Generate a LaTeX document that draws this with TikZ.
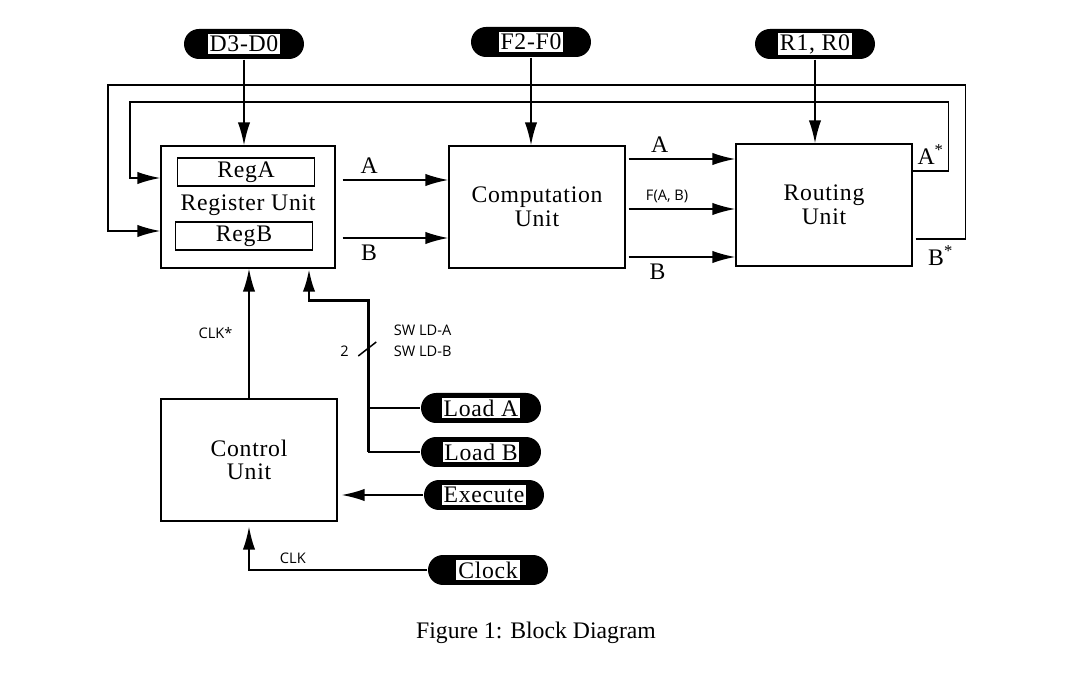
\documentclass[tikz,border=0pt]{standalone}
\usepackage{fontspec}
\setmainfont{Liberation Serif}
\newfontfamily\boxfont[LetterSpace=3]{Liberation Serif}
\newfontfamily\smallsans{Open Sans}
\usetikzlibrary{arrows.meta,calc}
\setlength{\fboxsep}{1pt}

\begin{document}
\begin{tikzpicture}[x=0.02cm, y=-0.02cm, line width=0.85pt,
    unit/.style={draw, minimum width=3.52cm, minimum height=2.44cm, align=center, font=\boxfont\fontsize{13.5}{13.5}\selectfont},
    regbox/.style={draw, minimum width=2.74cm, minimum height=0.56cm, inner sep=0pt, font=\boxfont\fontsize{13.5}{14}\selectfont},
    pill/.style={fill=black, rounded corners=0.3cm, minimum width=2.4cm, minimum height=0.6cm, inner sep=0pt, font=\boxfont\fontsize{13.5}{14}\selectfont},
    arr/.style={-{Latex[length=13pt, width=7pt]}},
    bus/.style={line width=1.7pt},
    sig/.style={font=\fontsize{13.5}{14}\selectfont},
    tag/.style={font=\smallsans\fontsize{8.3}{12}\selectfont}]
\useasboundingbox (0,0) rectangle (1078,688);

\node[unit, minimum width=3.48cm] (reg) at (248,207) {};
\node[regbox] (rega) at (246,172) {RegA};
\node[regbox] (regb) at (244,236) {RegB};
\node[sig, font=\boxfont\fontsize{13.5}{14}\selectfont] (regname) at (248,205) {Register Unit};
\node[unit] (comp) at (537,207) {Computation\\Unit};
\node[unit, minimum width=3.52cm] (rout) at (824,205) {Routing\\Unit};
\node[unit] (ctrl) at (249,460) {Control\\Unit};

\node[pill] (din) at (244,44) {\colorbox{white}{D3-D0}};
\node[pill] (fin) at (531,42) {\colorbox{white}{F2-F0}};
\node[pill] (rin) at (815,44) {\colorbox{white}{R1, R0}};
\node[pill] (lda) at (481,408) {\colorbox{white}{Load A}};
\node[pill] (ldb) at (481,452) {\colorbox{white}{Load B}};
\node[pill] (exe) at (484,495) {\colorbox{white}{Execute}};
\node[pill] (clk) at (488,570) {\colorbox{white}{Clock}};

\draw[arr] (din.south) -- (din.south |- reg.north);
\draw[arr] (fin.south) -- (fin.south |- comp.north);
\draw[arr] (rin.south) -- (rin.south |- rout.north);

\draw[arr] ($(reg.east)+(7,-27)$) coordinate (ra) -- (ra -| comp.west)
    node[sig, pos=0.25, above] (la) {A};
\draw[arr] ($(reg.east)+(7,31)$) coordinate (rb) -- (rb -| comp.west)
    node[sig, pos=0.25, below] (lb) {B};
\draw[arr] ($(comp.east)+(3,-48)$) coordinate (ca) -- (ca -| rout.west)
    node[sig, pos=0.29, above] (lca) {A};
\draw[arr] ($(comp.east)+(3,2)$) coordinate (cf) -- (cf -| rout.west)
    node[tag, pos=0.36, above] (lcf) {F(A, B)};
\draw[arr] ($(comp.east)+(3,50)$) coordinate (cb) -- (cb -| rout.west)
    node[sig, pos=0.27, below] (lcb) {B};

\draw[arr] ($(rout.east)+(0,-34)$) -- ++(36,0) node[sig, midway, above] (las) {A\textsuperscript{*}}
    |- (130,102) |- ($(reg.west)+(0,-29)$);
\draw[arr] ($(rout.east)+(3,34)$) -- ++(50,0) node[sig, midway, below] (lbs) {B\textsuperscript{*}}
    |- (108,85) |- ($(reg.west)+(0,24)$);

\draw[arr] (ctrl.north) -- (ctrl.north |- reg.south)
    node[tag, midway, left=0.2cm] (lclks) {CLK*};

\draw[bus, arr] ($(ldb.west)+(-52,0)$) coordinate (bb) |- ($(reg.south)+(61,32)$)
    -- ($(reg.south)+(61,0)$);
\draw (bb) -- (ldb.west);
\draw (bb |- lda.west) -- (lda.west);
\coordinate (cut) at ($(bb)+(-1,-103)$);
\draw (cut) ++(-9,7) -- ++(18,-14);
\node[tag, left] (nbits) at ($(cut)+(-12,2)$) {2};
\node[tag, right, align=left] (swld) at ($(cut)+(20,-8)$) {SW LD-A\\SW LD-B};

\draw[arr, shorten >=0.08cm] (exe.west) -- (exe.west -| ctrl.east);
\draw[arr, shorten >=0.1cm] (clk.west) -| (ctrl.south)
    node[tag, pos=0.377, above] (lclk) {CLK};

\node[sig] (caption) at (536,633) {Figure 1: Block Diagram};
\end{tikzpicture}
\end{document}
